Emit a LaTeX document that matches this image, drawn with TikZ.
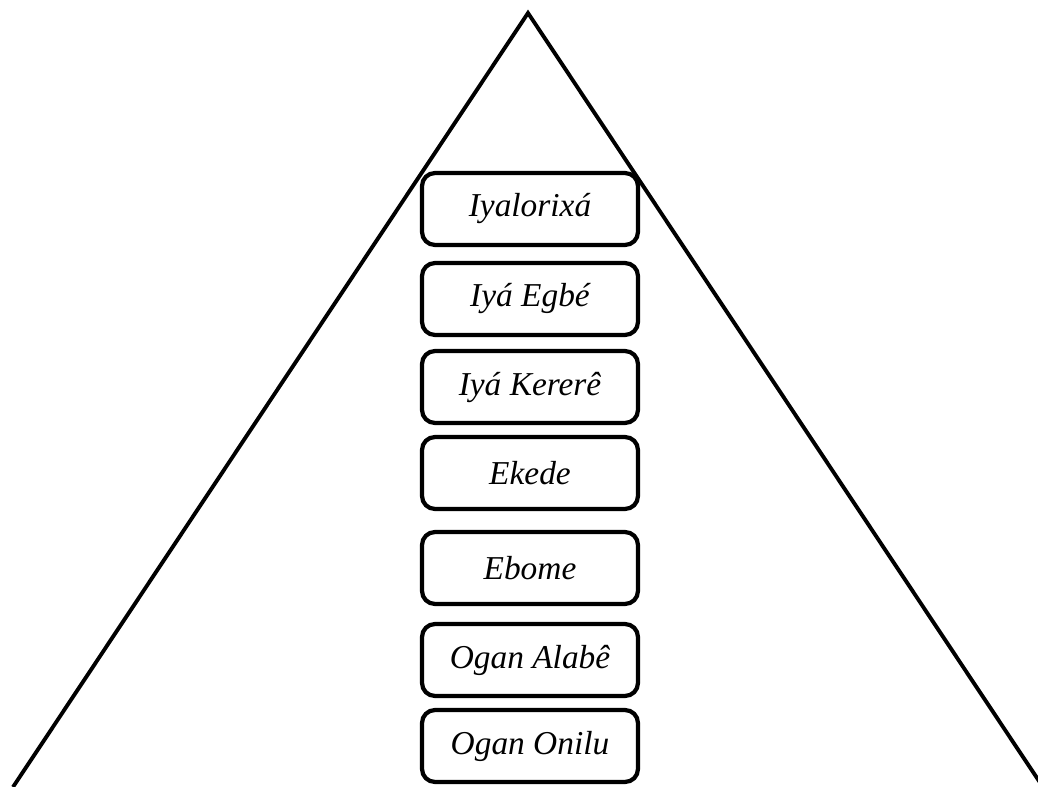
\documentclass[tikz,border=0pt]{standalone}
\usepackage{fontspec}
\setmainfont{Liberation Serif}
\usetikzlibrary{positioning}
\tikzset{
	rank/.style={draw, fill=white, line width=2.4pt, rounded corners=2.6mm,
		minimum width=4.32cm, minimum height=1.44cm, inner sep=0,
		font=\fontsize{19}{23}\selectfont\itshape},
	side/.style={line width=2.2pt}
}

\begin{document}
\begin{tikzpicture}[x=0.02cm, y=-0.02cm]
				\useasboundingbox (0,0) rectangle (1038,787);
				\clip (0,0) rectangle (1038,787);
				\coordinate (apex) at (528, 13);
				\coordinate (base_l) at (13, 787);
				\coordinate (base_r) at (1043, 787);
				\draw[side] (base_l) -- (apex) -- (base_r);
				\node[rank] (iyalorixa) at (530, 209) {Iyalorixá};
				\node[rank] (iya_egbe) at (530, 299) {Iyá Egbé};
				\node[rank] (iya_kerere) at (530, 387) {Iyá Kererê};
				\node[rank] (ekede) at (530, 473) {Ekede};
				\node[rank] (ebome) at (530, 568) {Ebome};
				\node[rank] (ogan_alabe) at (530, 660) {Ogan Alabê};
				\node[rank] (ogan_onilu) at (530, 746) {Ogan Onilu};
			\end{tikzpicture}
\end{document}
